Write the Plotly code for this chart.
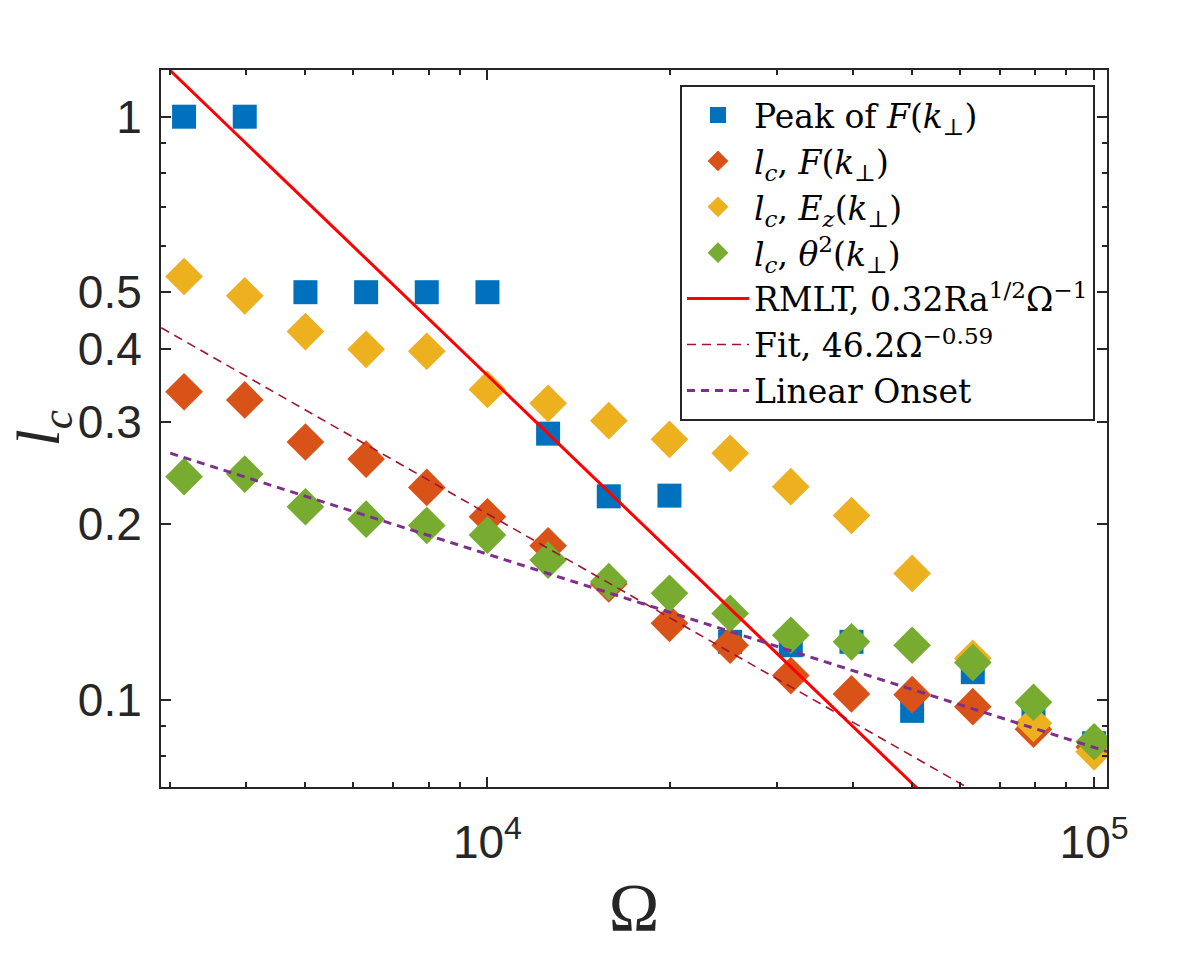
import plotly.graph_objects as go
import numpy as np

# Omega values (log-spaced, 0.1 decade)
omega = [3162, 3981, 5012, 6310, 7943, 10000, 12589, 15849, 19953,
         25119, 31623, 39811, 50119, 63096, 79433, 100000]

# l_c estimates
peak_F = [1.0, 1.0, 0.5, 0.5, 0.5, 0.5, 0.286, 0.2233, 0.2239,
          0.1257, 0.124, 0.1257, 0.0957, 0.1115, 0.0939, 0.0842]
lc_F = [0.3375, 0.3267, 0.2767, 0.2587, 0.2313, 0.206, 0.1837, 0.158, 0.1352,
        0.124, 0.110, 0.1023, 0.1020, 0.0973, 0.0890, 0.083]
lc_Ez = [0.532, 0.493, 0.428, 0.399, 0.396, 0.3406, 0.3224, 0.301, 0.2797,
         0.2646, 0.232, 0.207, 0.1647, 0.1178, 0.0911, 0.0814]
lc_theta = [0.2413, 0.2438, 0.2143, 0.204, 0.199, 0.1916, 0.1736, 0.1594, 0.1522,
            0.1406, 0.129, 0.1257, 0.124, 0.1158, 0.099, 0.0847]

# straight reference lines (end points)
rmlt_omega = [3000, 105000]
rmlt_lc = [1.2, 0.0343]
fit_omega = [2900, 66000]
fit_lc = [0.4345, 0.0680]
onset_omega = [3000, 105000]
onset_lc = [0.2648, 0.0815]

# axis ticks
xtick_vals = [1e4, 1e5]
xtick_text = ['10<sup>4</sup>', '10<sup>5</sup>']
xminor_vals = [3000, 4000, 5000, 6000, 7000, 8000, 9000,
               20000, 30000, 40000, 50000, 60000, 70000, 80000, 90000]
ytick_vals = [0.1, 0.2, 0.3, 0.4, 0.5, 1]
ytick_text = ['0.1', '0.2', '0.3', '0.4', '0.5', '1']
yminor_vals = [0.08, 0.09, 0.6, 0.7, 0.8, 0.9]

AX = '#262626'
SERIF = 'Liberation Serif'
SANS = 'Liberation Sans'

fig = go.Figure()

fig.add_trace(go.Scatter(
    x=omega, y=peak_F, mode='markers',
    name='Peak of <i>F</i>(<i>k</i><sub>⊥</sub>)',
    marker=dict(symbol='square', size=24, color='#0072BD', line=dict(width=0))))
fig.add_trace(go.Scatter(
    x=omega, y=lc_F, mode='markers',
    name='<i>l<sub>c</sub></i>, <i>F</i>(<i>k</i><sub>⊥</sub>)',
    marker=dict(symbol='diamond', size=29, color='#D95319', line=dict(width=0))))
fig.add_trace(go.Scatter(
    x=omega, y=lc_Ez, mode='markers',
    name='<i>l<sub>c</sub></i>, <i>E<sub>z</sub></i>(<i>k</i><sub>⊥</sub>)',
    marker=dict(symbol='diamond', size=29, color='#EDB120', line=dict(width=0))))
fig.add_trace(go.Scatter(
    x=omega, y=lc_theta, mode='markers',
    name='<i>l<sub>c</sub></i>, <i>θ</i><sup>2</sup>(<i>k</i><sub>⊥</sub>)',
    marker=dict(symbol='diamond', size=29, color='#77AC30', line=dict(width=0))))

fig.add_trace(go.Scatter(
    x=rmlt_omega, y=rmlt_lc, mode='lines',
    name='RMLT, 0.32Ra<sup>1/2</sup>Ω<sup>−1</sup>',
    line=dict(color='#FF0000', width=3)))
fig.add_trace(go.Scatter(
    x=fit_omega, y=fit_lc, mode='lines',
    name='Fit, 46.2Ω<sup>−0.59</sup>',
    line=dict(color='#A2142F', width=1.6, dash='9px,6px')))
fig.add_trace(go.Scatter(
    x=onset_omega, y=onset_lc, mode='lines',
    name='Linear Onset',
    line=dict(color='#7E2F8E', width=3, dash='8px,6px')))

axis_common = dict(
    type='log', showgrid=False, zeroline=False, automargin=False,
    showline=True, linecolor=AX, linewidth=2, mirror='ticks',
    ticks='inside', ticklen=10, tickwidth=2, tickcolor=AX,
    tickfont=dict(family=SANS, size=46, color=AX),
)

fig.update_xaxes(
    **axis_common,
    ticklabelstandoff=14,
    range=[np.log10(2897), np.log10(105000)],
    tickmode='array', tickvals=xtick_vals, ticktext=xtick_text,
    minor=dict(tickvals=xminor_vals, ticks='inside', ticklen=5,
               tickwidth=1.5, tickcolor=AX, showgrid=False),
    title=dict(text='Ω', font=dict(family=SERIF, size=68, color=AX), standoff=16),
)
fig.update_yaxes(
    **axis_common,
    ticklabelstandoff=8,
    range=[-1.1497, 0.0801],
    tickmode='array', tickvals=ytick_vals, ticktext=ytick_text,
    minor=dict(tickvals=yminor_vals, ticks='inside', ticklen=5,
               tickwidth=1.5, tickcolor=AX, showgrid=False),
)

# y title as a rotated annotation so it sits clear of the tick labels
fig.add_annotation(
    text='<i>l<sub>c</sub></i>', textangle=-90,
    xref='paper', yref='paper', x=-0.126, y=0.50,
    xanchor='center', yanchor='middle', showarrow=False,
    width=70, height=62, borderpad=0,
    font=dict(family=SERIF, size=62, color=AX),
)

# page body has an 8px margin, so the figure is a little smaller than the window
fig.update_layout(
    width=1180, height=937,
    margin=dict(l=153, r=81, t=62, b=158),
    plot_bgcolor='white', paper_bgcolor='white',
    legend=dict(
        x=0.9873, y=0.979, xanchor='right', yanchor='top',
        bgcolor='white', bordercolor=AX, borderwidth=2,
        font=dict(family='DejaVu Serif', size=33, color='black'),
        itemwidth=62, tracegroupgap=0,
    ),
)

fig.write_html("out.html")
